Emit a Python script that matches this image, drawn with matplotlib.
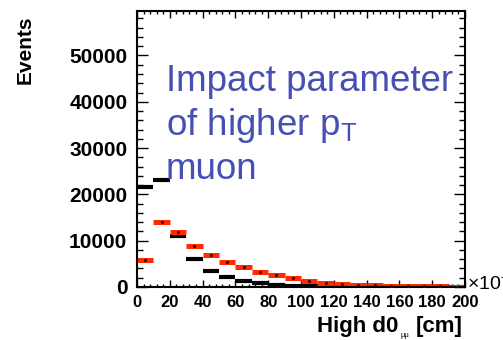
import numpy as np
import matplotlib.pyplot as plt
from matplotlib.ticker import MultipleLocator

plt.rcParams['font.family'] = ['Liberation Sans', 'DejaVu Sans']
plt.rcParams['mathtext.fontset'] = 'custom'
plt.rcParams['mathtext.rm'] = 'Liberation Sans'
plt.rcParams['mathtext.it'] = 'Liberation Sans'

# d0 bins [x10^-3 cm], 20 bins of width 10
bin_edges = np.arange(0, 210, 10)

# events per bin, two samples
black_counts = [21500, 23100, 11100, 6000, 3500, 2150, 1200, 950, 500, 300,
                200, 150, 100, 80, 60, 50, 40, 30, 30, 20]
red_counts = [5750, 14000, 11900, 8900, 6900, 5300, 4250, 3250, 2500, 1870,
              1370, 950, 720, 500, 360, 290, 220, 150, 140, 60]

lo = bin_edges[:-1]
hi = bin_edges[1:]
mid = 0.5 * (lo + hi)

fig = plt.figure(figsize=(5.03, 3.40), dpi=100)
ax = fig.add_axes([0.2724, 0.1559, 0.652, 0.8117])

ax.hlines(black_counts, lo, hi, colors='black', linewidth=3.0)
ax.hlines(red_counts, lo, hi, colors='#ff2a00', linewidth=3.6)
ax.scatter(mid, red_counts, s=1.5, color='#400000', zorder=3)

ax.set_xlim(0, 200)
ax.set_ylim(0, 59600)
ax.xaxis.set_major_locator(MultipleLocator(20))
ax.xaxis.set_minor_locator(MultipleLocator(4))
ax.yaxis.set_major_locator(MultipleLocator(10000))
ax.yaxis.set_minor_locator(MultipleLocator(2000))
ax.set_yticks([0, 10000, 20000, 30000, 40000, 50000])

ax.tick_params(which='both', direction='in', top=True, right=True, width=1)
ax.tick_params(axis='y', which='major', length=8, pad=7, labelsize=15)
ax.tick_params(axis='y', which='minor', length=4)
ax.tick_params(axis='x', which='major', length=5, pad=6, labelsize=12)
ax.tick_params(axis='x', which='minor', length=2.5)
for lab in ax.get_xticklabels() + ax.get_yticklabels():
    lab.set_fontweight('bold')
for sp in ax.spines.values():
    sp.set_linewidth(1.5)

# axis titles
fig.text(25 / 503, 1 - 15 / 340, 'Events', rotation=90, ha='center', va='top',
         fontsize=15, fontweight='bold')
fig.text(398 / 503, 1 - 332 / 340, 'High d0', ha='right', va='baseline',
         fontsize=16, fontweight='bold')
fig.text(405 / 503, 1 - 337 / 340, 'μμ', ha='center', va='baseline',
         fontsize=5.5)
fig.text(463 / 503, 1 - 332 / 340, '[cm]', ha='right', va='baseline',
         fontsize=16, fontweight='bold')
fig.text(467 / 503, 1 - 289 / 340, '×10$^{-3}$', ha='left', va='baseline',
         fontsize=14)

# annotation
note_color = '#4650b4'
fig.text(166 / 503, 1 - 91 / 340, 'Impact parameter', ha='left',
         va='baseline', fontsize=26.5, color=note_color)
fig.text(166 / 503, 1 - 135 / 340, 'of higher p$_\\mathrm{T}$', ha='left',
         va='baseline', fontsize=26.5, color=note_color)
fig.text(166 / 503, 1 - 179 / 340, 'muon', ha='left',
         va='baseline', fontsize=26.5, color=note_color)

fig.savefig('out.png', dpi=100)
